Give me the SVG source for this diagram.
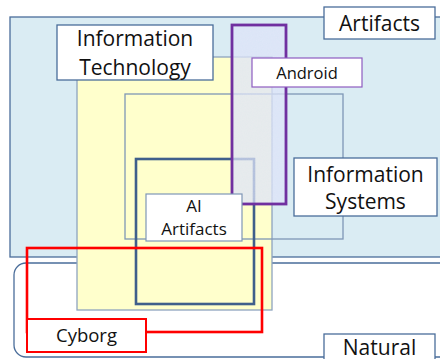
<svg xmlns="http://www.w3.org/2000/svg" width="440" height="359" viewBox="0 0 440 359">
  <style>
    .lbl { fill: #ffffff; stroke: #4A6D9A; stroke-width: 1.3; }
    .txt { font-family: "Open Sans", "Liberation Sans", sans-serif; fill: #111111; text-anchor: middle; }
    .big { font-size: 21px; }
    .mid { font-size: 17px; }
  </style>
  <defs>
    <!-- faint speckle for the translucent Android band -->
    <filter id="grain" x="0" y="0" width="100%" height="100%">
      <feTurbulence type="fractalNoise" baseFrequency="0.8" numOctaves="2" seed="3" result="n"/>
      <feColorMatrix in="n" type="matrix" values="0 0 0 0 0.95  0 0 0 0 0.85  0 0 0 0 0.95  0 0 0 0.25 0" result="c"/>
      <feComposite in="c" in2="SourceGraphic" operator="in" result="g"/>
      <feMerge><feMergeNode in="SourceGraphic"/><feMergeNode in="g"/></feMerge>
    </filter>
  </defs>

  <!-- outer domains -->
  <g id="artifacts">
    <rect x="10" y="17" width="445" height="240" fill="#DAECF3" stroke="#4A6D9A" stroke-width="1.3"/>
  </g>
  <g id="natural">
    <rect x="14" y="263" width="440" height="94" rx="12" fill="#ffffff" stroke="#4A6D9A" stroke-width="1.3"/>
  </g>

  <g id="information-technology">
    <rect x="77" y="57" width="195" height="253" fill="#FFFFCC" stroke="#8EA4BF" stroke-width="1.3"/>
  </g>

  <g id="information-systems">
    <rect x="125" y="94" width="218" height="145" fill="none" stroke="#7F97B6" stroke-width="1.3"/>
  </g>

  <g id="ai-artifacts">
    <rect x="136" y="159" width="118" height="145" fill="none" stroke="#3F5F8B" stroke-width="2.6"/>
  </g>

  <g id="android">
    <rect x="232" y="25" width="54" height="179" fill="#D9E2F8" fill-opacity="0.72" filter="url(#grain)"/>
    <rect x="232" y="25" width="54" height="179" fill="none" stroke="#7030A0" stroke-width="2.8"/>
  </g>

  <g id="cyborg">
    <rect x="27" y="248" width="235" height="84" fill="none" stroke="#FF0000" stroke-width="2.6"/>
  </g>

  <!-- labels -->
  <g id="label-artifacts">
    <rect class="lbl" x="324" y="7" width="111" height="32"/>
    <text class="txt big" x="379.5" y="31">Artifacts</text>
  </g>
  <g id="label-information-technology">
    <rect class="lbl" x="57" y="25" width="156" height="55"/>
    <text class="txt big" x="135" y="46">Information</text>
    <text class="txt big" x="135" y="75">Technology</text>
  </g>
  <g id="label-android">
    <rect x="252" y="58" width="110" height="29" fill="#ffffff" stroke="#8E5CC0" stroke-width="1.2"/>
    <text class="txt" x="307" y="79" font-size="16.5">Android</text>
  </g>
  <g id="label-information-systems">
    <rect class="lbl" x="294" y="158" width="143" height="58"/>
    <text class="txt big" x="365.5" y="182">Information</text>
    <text class="txt big" x="365.5" y="209">Systems</text>
  </g>
  <g id="label-ai-artifacts">
    <rect x="146" y="194" width="96" height="47" fill="#ffffff" stroke="#7F97B6" stroke-width="1.2"/>
    <text class="txt mid" x="194" y="212">AI</text>
    <text class="txt mid" x="194" y="235">Artifacts</text>
  </g>
  <g id="label-cyborg">
    <rect x="27" y="319" width="119" height="33" fill="#ffffff" stroke="#FF0000" stroke-width="2"/>
    <text class="txt" x="86.5" y="342" font-size="18.5">Cyborg</text>
  </g>
  <g id="label-natural">
    <rect class="lbl" x="324" y="334" width="111" height="32"/>
    <text class="txt big" x="379.5" y="355">Natural</text>
  </g>

  <g id="connectors"></g>
</svg>
